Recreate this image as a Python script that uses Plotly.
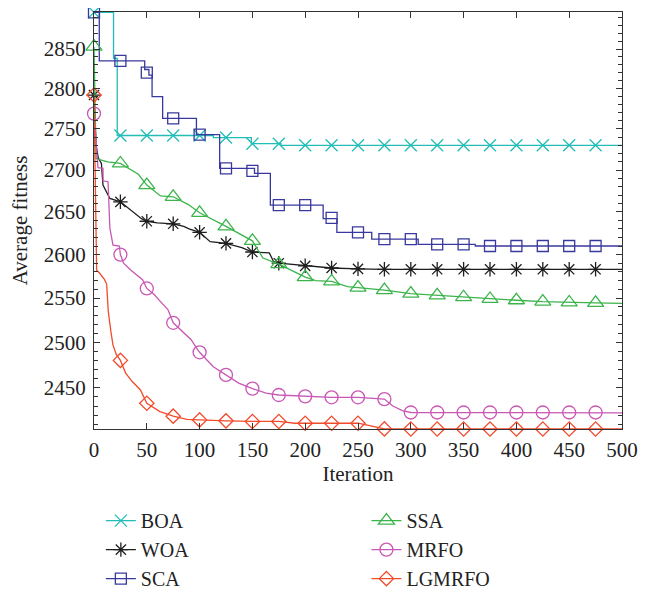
import plotly.graph_objects as go

# ---------------- data ----------------
MARK_ITERS = [0, 25, 50, 75, 100, 125, 150, 175, 200, 225, 250, 275, 300,
              325, 350, 375, 400, 425, 450, 475]

BOA_ITER = [0, 18.5, 22, 113, 149, 177, 500]
BOA_VAL = [2897, 2838, 2742, 2739.5, 2732, 2730, 2730]
BOA_MARK = [2897, 2742, 2742, 2742, 2742, 2739.5, 2732, 2732, 2730, 2730,
            2730, 2730, 2730, 2730, 2730, 2730, 2730, 2730, 2730, 2730]

WOA_ITER = [0, 1, 2, 4, 7, 8.5, 12, 15, 25, 35, 45, 50, 60, 75, 85, 90, 100,
            110, 125, 140, 150, 166, 170, 175, 200, 225, 250, 275, 500]
WOA_VAL = [2792, 2760, 2730, 2715, 2708, 2682, 2673, 2666, 2662, 2652, 2642,
           2639, 2637, 2636, 2633, 2630, 2626, 2615, 2613, 2608, 2603, 2602,
           2592, 2590, 2587, 2584.5, 2583.5, 2583, 2583]
WOA_MARK = [2792, 2662, 2639, 2636, 2626, 2613, 2603, 2590, 2587, 2584.5,
            2583.5, 2583, 2583, 2583, 2583, 2583, 2583, 2583, 2583, 2583]

SCA_ITER = [0, 5, 48, 52, 55, 65, 97, 119, 152, 167, 217, 230, 263, 307, 361, 500]
SCA_VAL = [2897, 2835, 2824, 2817, 2790, 2763, 2743, 2702, 2696, 2658, 2642,
           2626, 2618, 2612, 2610, 2610]
SCA_MARK = [2897, 2835, 2820, 2763, 2743, 2702, 2699, 2658, 2658, 2643,
            2626, 2618, 2618, 2612, 2612, 2610, 2610, 2610, 2610, 2610]

SSA_ITER = [0, 2, 7, 13, 25, 32, 42, 50, 63, 75, 89, 100, 125, 150, 160, 175,
            200, 210, 225, 240, 250, 275, 300, 325, 350, 375, 400, 425, 450,
            475, 500]
SSA_VAL = [2853, 2714, 2712, 2710, 2708, 2703, 2695, 2682, 2669, 2668, 2659,
           2649, 2633, 2616, 2596, 2589, 2574, 2570, 2569, 2563, 2562, 2559,
           2555, 2553, 2551, 2549, 2547.5, 2546, 2545, 2544.5, 2544]
SSA_MARK = [2853, 2708, 2682, 2668, 2649, 2633, 2616, 2589, 2574, 2569,
            2562, 2559, 2555, 2553, 2551, 2549, 2547.5, 2546, 2545, 2544.5]

MRFO_ITER = [0, 3.8, 8.5, 8.6, 13.3, 15, 18, 24, 25, 28, 35, 41, 46, 50, 57,
             63, 70, 75, 86, 92, 97, 100, 113, 120, 125, 137, 150, 163, 175,
             200, 225, 250, 275, 283, 292, 300, 500]
MRFO_VAL = [2769, 2703, 2702, 2687, 2686, 2631, 2611, 2610, 2600, 2590, 2582,
            2576, 2571, 2561, 2554, 2546, 2537, 2522, 2510, 2503, 2494, 2489,
            2473, 2468, 2464, 2455, 2449, 2444, 2442, 2440.5, 2439.5, 2439.5,
            2437.5, 2430, 2425, 2423, 2422.5]
MRFO_MARK = [2769, 2600, 2561, 2522, 2489, 2464, 2449, 2442, 2440.5, 2439.5,
             2439.5, 2437.5, 2423, 2423, 2423, 2423, 2423, 2423, 2423, 2423]

LG_ITER = [0, 1, 2.5, 5, 10, 12, 13.5, 16, 18, 21, 25, 30, 36, 44, 50, 62.5,
           75, 88, 100, 125, 150, 175, 190, 250, 260, 270, 275, 500]
LG_VAL = [2792, 2680, 2582, 2579, 2571, 2566, 2535, 2512, 2497, 2487, 2480,
          2466, 2457, 2447.5, 2433, 2424, 2419, 2415.6, 2415, 2414, 2413.3,
          2413.3, 2411.4, 2411.4, 2409, 2406, 2405.3, 2405.2]
LG_MARK = [2792, 2480, 2433, 2419, 2415, 2414, 2413.3, 2413.3, 2411.4, 2411.4,
           2411.4, 2405.3, 2405.2, 2405.2, 2405.2, 2405.2, 2405.2, 2405.2,
           2405.2, 2405.2]

NAMES = ["BOA", "WOA", "SCA", "SSA", "MRFO", "LGMRFO"]
Y_TICKS = [2450, 2500, 2550, 2600, 2650, 2700, 2750, 2800, 2850]
X_TICKS = [0, 50, 100, 150, 200, 250, 300, 350, 400, 450, 500]

# ---------------- styles ----------------
FONT = "Liberation Serif"
TXT = "#222222"
series = [
    (NAMES[0], BOA_ITER, BOA_VAL, BOA_MARK, "#22bdb6", "x-thin", 12, "hv", "legend"),
    (NAMES[1], WOA_ITER, WOA_VAL, WOA_MARK, "#1e1e1e", "asterisk", 12, "linear", "legend"),
    (NAMES[2], SCA_ITER, SCA_VAL, SCA_MARK, "#38389e", "square-open", 11, "hv", "legend"),
    (NAMES[3], SSA_ITER, SSA_VAL, SSA_MARK, "#3cb44c", "triangle-up-open", 14, "linear", "legend2"),
    (NAMES[4], MRFO_ITER, MRFO_VAL, MRFO_MARK, "#c957b4", "circle-open", 13, "linear", "legend2"),
    (NAMES[5], LG_ITER, LG_VAL, LG_MARK, "#f24b2b", "diamond-open", 11, "linear", "legend2"),
]

fig = go.Figure()
for name, xs, ys, ms, col, sym, size, shape, leg in series:
    fig.add_trace(go.Scatter(
        x=xs, y=ys, mode="lines", line=dict(color=col, width=1.3, shape=shape),
        showlegend=False, cliponaxis=False, hoverinfo="skip"))
    fig.add_trace(go.Scatter(
        x=MARK_ITERS, y=ms, mode="markers",
        marker=dict(symbol=sym, size=size, color=col, line=dict(color=col, width=1.3)),
        showlegend=False, cliponaxis=False))
    fig.add_trace(go.Scatter(
        x=[None], y=[None], mode="lines+markers", name=name, legend=leg,
        line=dict(color=col, width=1.3),
        marker=dict(symbol=sym, size=size, color=col, line=dict(color=col, width=1.3))))

y_minor = [v for v in range(2410, 2900, 10) if v not in Y_TICKS]

axis_common = dict(
    showline=True, linecolor="#333333", linewidth=1.3, mirror="ticks",
    ticks="inside", tickcolor="#333333", tickwidth=1.2, showgrid=False,
    zeroline=False, automargin=False,
    tickfont=dict(family=FONT, size=21, color=TXT),
)

fig.update_xaxes(
    range=[0, 500], tickmode="array", tickvals=X_TICKS, ticklen=6,
    ticklabelstandoff=2,
    title=dict(text="Iteration", font=dict(family=FONT, size=21, color=TXT), standoff=4),
    **axis_common)
fig.update_yaxes(
    type="log", range=[3.38115, 3.46202], tickmode="array", tickvals=Y_TICKS,
    ticktext=[str(v) for v in Y_TICKS], ticklen=6, ticklabelstandoff=3,
    minor=dict(tickmode="array", tickvals=y_minor, ticklen=3.5, ticks="inside",
               tickcolor="#333333", tickwidth=1.0, showgrid=False),
    title=dict(text="Average fitness", font=dict(family=FONT, size=21, color=TXT),
               standoff=10),
    **axis_common)

legend_common = dict(
    xanchor="left", yanchor="top", orientation="v",
    font=dict(family=FONT, size=20, color=TXT),
    bgcolor="rgba(0,0,0,0)", borderwidth=0, itemwidth=30, tracegroupgap=0,
)
fig.update_layout(
    width=650, height=595, autosize=False,
    margin=dict(l=86, r=36, t=4, b=174, autoexpand=False),
    paper_bgcolor="white", plot_bgcolor="white",
    legend=dict(x=0.013, y=-0.173, **legend_common),
    legend2=dict(x=0.516, y=-0.173, **legend_common),
)

fig.write_html("out.html")
